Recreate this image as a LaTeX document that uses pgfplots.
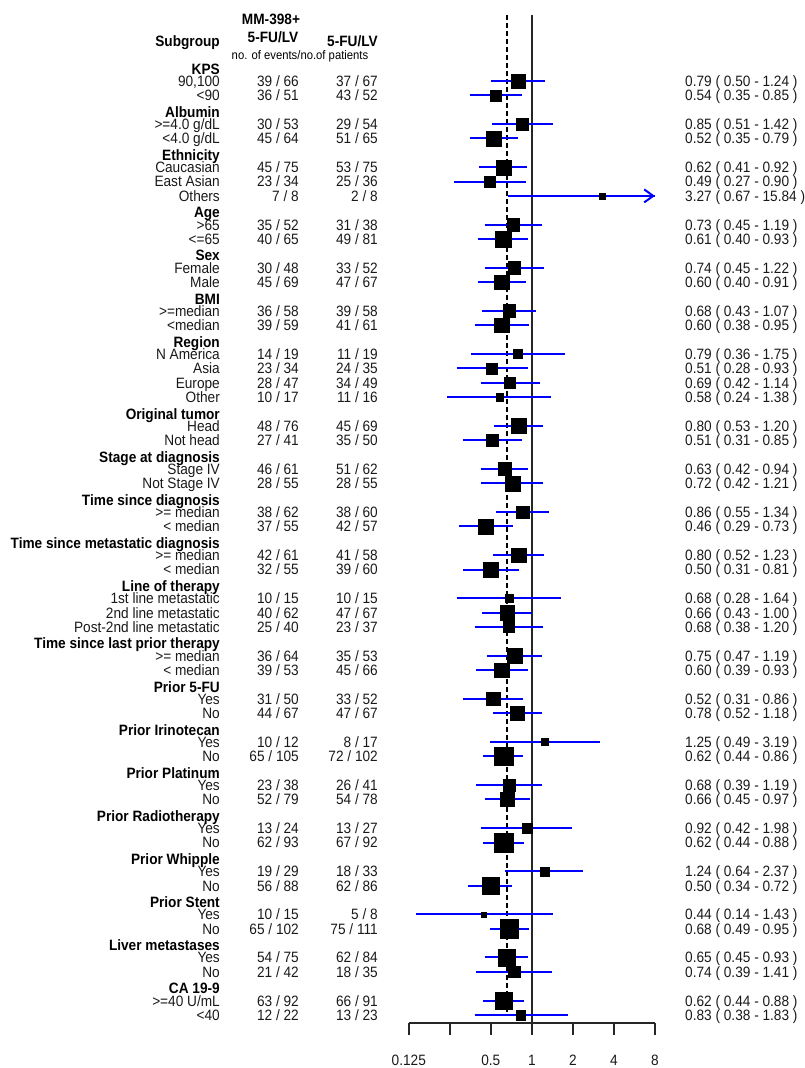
\documentclass[border=0pt]{standalone}
\usepackage{pgfplots}
\pgfplotsset{compat=1.18}
\usepackage{pgfplotstable}
\usepackage{fontspec}
\setmainfont{Liberation Sans}[FakeStretch=0.91]
\usetikzlibrary{arrows.meta}

\pgfplotstableread[col sep=semicolon]{
k;lab;ea;eb;hr;lo;hi;ci;box
1;90,100;39 / 66;37 / 67;0.79;0.50;1.24;0.79 ( 0.50 - 1.24 );14
2;<90;36 / 51;43 / 52;0.54;0.35;0.85;0.54 ( 0.35 - 0.85 );11
4;>=4.0 g/dL;30 / 53;29 / 54;0.85;0.51;1.42;0.85 ( 0.51 - 1.42 );12.7
5;<4.0 g/dL;45 / 64;51 / 65;0.52;0.35;0.79;0.52 ( 0.35 - 0.79 );15
7;Caucasian;45 / 75;53 / 75;0.62;0.41;0.92;0.62 ( 0.41 - 0.92 );15
8;East Asian;23 / 34;25 / 36;0.49;0.27;0.90;0.49 ( 0.27 - 0.90 );11.5
9;Others;7 / 8;2 / 8;3.27;0.67;15.84;3.27 ( 0.67 - 15.84 );6.5
11;>65;35 / 52;31 / 38;0.73;0.45;1.19;0.73 ( 0.45 - 1.19 );12.7
12;<=65;40 / 65;49 / 81;0.61;0.40;0.93;0.61 ( 0.40 - 0.93 );16
14;Female;30 / 48;33 / 52;0.74;0.45;1.22;0.74 ( 0.45 - 1.22 );12.7
15;Male;45 / 69;47 / 67;0.60;0.40;0.91;0.60 ( 0.40 - 0.91 );14.3
17;>=median;36 / 58;39 / 58;0.68;0.43;1.07;0.68 ( 0.43 - 1.07 );12.7
18;<median;39 / 59;41 / 61;0.60;0.38;0.95;0.60 ( 0.38 - 0.95 );14.3
20;N America;14 / 19;11 / 19;0.79;0.36;1.75;0.79 ( 0.36 - 1.75 );9
21;Asia;23 / 34;24 / 35;0.51;0.28;0.93;0.51 ( 0.28 - 0.93 );11
22;Europe;28 / 47;34 / 49;0.69;0.42;1.14;0.69 ( 0.42 - 1.14 );11.3
23;Other;10 / 17;11 / 16;0.58;0.24;1.38;0.58 ( 0.24 - 1.38 );7.3
25;Head;48 / 76;45 / 69;0.80;0.53;1.20;0.80 ( 0.53 - 1.20 );14.7
26;Not head;27 / 41;35 / 50;0.51;0.31;0.85;0.51 ( 0.31 - 0.85 );12.7
28;Stage IV;46 / 61;51 / 62;0.63;0.42;0.94;0.63 ( 0.42 - 0.94 );13
29;Not Stage IV;28 / 55;28 / 55;0.72;0.42;1.21;0.72 ( 0.42 - 1.21 );14.7
31;>= median;38 / 62;38 / 60;0.86;0.55;1.34;0.86 ( 0.55 - 1.34 );12.7
32;< median;37 / 55;42 / 57;0.46;0.29;0.73;0.46 ( 0.29 - 0.73 );15
34;>= median;42 / 61;41 / 58;0.80;0.52;1.23;0.80 ( 0.52 - 1.23 );14.7
35;< median;32 / 55;39 / 60;0.50;0.31;0.81;0.50 ( 0.31 - 0.81 );15
37;1st line metastatic;10 / 15;10 / 15;0.68;0.28;1.64;0.68 ( 0.28 - 1.64 );7.3
38;2nd line metastatic;40 / 62;47 / 67;0.66;0.43;1.00;0.66 ( 0.43 - 1.00 );14.3
39;Post-2nd line metastatic;25 / 40;23 / 37;0.68;0.38;1.20;0.68 ( 0.38 - 1.20 );11
41;>= median;36 / 64;35 / 53;0.75;0.47;1.19;0.75 ( 0.47 - 1.19 );14.7
42;< median;39 / 53;45 / 66;0.60;0.39;0.93;0.60 ( 0.39 - 0.93 );14.3
44;Yes;31 / 50;33 / 52;0.52;0.31;0.86;0.52 ( 0.31 - 0.86 );13.3
45;No;44 / 67;47 / 67;0.78;0.52;1.18;0.78 ( 0.52 - 1.18 );14.7
47;Yes;10 / 12;8 / 17;1.25;0.49;3.19;1.25 ( 0.49 - 3.19 );7
48;No;65 / 105;72 / 102;0.62;0.44;0.86;0.62 ( 0.44 - 0.86 );18.3
50;Yes;23 / 38;26 / 41;0.68;0.39;1.19;0.68 ( 0.39 - 1.19 );11.5
51;No;52 / 79;54 / 78;0.66;0.45;0.97;0.66 ( 0.45 - 0.97 );14.3
53;Yes;13 / 24;13 / 27;0.92;0.42;1.98;0.92 ( 0.42 - 1.98 );10.3
54;No;62 / 93;67 / 92;0.62;0.44;0.88;0.62 ( 0.44 - 0.88 );18.3
56;Yes;19 / 29;18 / 33;1.24;0.64;2.37;1.24 ( 0.64 - 2.37 );9
57;No;56 / 88;62 / 86;0.50;0.34;0.72;0.50 ( 0.34 - 0.72 );17
59;Yes;10 / 15;5 / 8;0.44;0.14;1.43;0.44 ( 0.14 - 1.43 );5.3
60;No;65 / 102;75 / 111;0.68;0.49;0.95;0.68 ( 0.49 - 0.95 );18.7
62;Yes;54 / 75;62 / 84;0.65;0.45;0.93;0.65 ( 0.45 - 0.93 );16.7
63;No;21 / 42;18 / 35;0.74;0.39;1.41;0.74 ( 0.39 - 1.41 );11.3
65;>=40 U/mL;63 / 92;66 / 91;0.62;0.44;0.88;0.62 ( 0.44 - 0.88 );16.3
66;<40;12 / 22;13 / 23;0.83;0.38;1.83;0.83 ( 0.38 - 1.83 );9.3
}\rows

\pgfplotstableread[col sep=semicolon]{
k;lab
0;KPS
3;Albumin
6;Ethnicity
10;Age
13;Sex
16;BMI
19;Region
24;Original tumor
27;Stage at diagnosis
30;Time since diagnosis
33;Time since metastatic diagnosis
36;Line of therapy
40;Time since last prior therapy
43;Prior 5-FU
46;Prior Irinotecan
49;Prior Platinum
52;Prior Radiotherapy
55;Prior Whipple
58;Prior Stent
61;Liver metastases
64;CA 19-9
}\heads

\pgfplotstablegetrowsof{\rows}
\pgfmathtruncatemacro\lastrow{\pgfplotsretval-1}

\newcommand\fs{\fontsize{15}{16}\selectfont}

\begin{document}
\begin{tikzpicture}
\path[use as bounding box] (0,0) rectangle (804pt,1068pt);
% ---------- text layer (x in pixels, y in rows) ----------
\begin{axis}[
  at={(0pt,0pt)}, anchor=south west,
  scale only axis, width=804pt, height=1068pt,
  xmin=0, xmax=804, ymin=-69.69, ymax=4.635,
  hide axis, clip=false,
  nodes near coords style={inner sep=0pt, font=\fs, text height=10.8pt, text depth=0pt, text=black!90},
]
\addplot[only marks, mark=*, mark size=0pt, mark options={draw=none,fill=none},
  point meta=explicit symbolic, nodes near coords,
  nodes near coords style={anchor=east}]
  table[x expr=220, y expr=-\thisrow{k}, meta=lab] {\rows};
\addplot[only marks, mark=*, mark size=0pt, mark options={draw=none,fill=none},
  point meta=explicit symbolic, nodes near coords,
  nodes near coords style={anchor=east}]
  table[x expr=299, y expr=-\thisrow{k}, meta=ea] {\rows};
\addplot[only marks, mark=*, mark size=0pt, mark options={draw=none,fill=none},
  point meta=explicit symbolic, nodes near coords,
  nodes near coords style={anchor=east}]
  table[x expr=378, y expr=-\thisrow{k}, meta=eb] {\rows};
\addplot[only marks, mark=*, mark size=0pt, mark options={draw=none,fill=none},
  point meta=explicit symbolic, nodes near coords,
  nodes near coords style={anchor=west}]
  table[x expr=685, y expr=-\thisrow{k}, meta=ci] {\rows};
\addplot[only marks, mark=*, mark size=0pt, mark options={draw=none,fill=none},
  point meta=explicit symbolic, nodes near coords,
  nodes near coords style={anchor=east, font=\fs\bfseries, text=black}]
  table[x expr=220, y expr=-\thisrow{k}-0.15, meta=lab] {\heads};
% column headers
\node[font=\fs\bfseries, inner sep=0pt, text height=10.8pt, text depth=0pt, anchor=center] at (axis cs:271,3.28) {MM-398+};
\node[font=\fs\bfseries, inner sep=0pt, text height=10.8pt, text depth=0pt, anchor=center] at (axis cs:273,2.08) {5-FU/LV};
\node[font=\fs\bfseries, inner sep=0pt, text height=10.8pt, text depth=0pt, anchor=east] at (axis cs:220,1.795) {Subgroup};
\node[font=\fs\bfseries, inner sep=0pt, text height=10.8pt, text depth=0pt, anchor=east] at (axis cs:378,1.76) {5-FU/LV};
\node[font=\fontsize{12.4}{13}\selectfont, inner sep=0pt, text height=8.9pt, text depth=0pt, anchor=center] at (axis cs:300,0.807) {no. of events/no.of patients};
\end{axis}

% ---------- forest plot ----------
\begin{axis}[
  at={(408.8pt,45pt)}, anchor=south west,
  scale only axis, width=246.1pt, height=1008pt,
  xmode=log, log basis x=2,
  xmin=0.125, xmax=8, ymin=-66.56, ymax=3.59,
  axis y line=none, axis x line*=bottom,
  x axis line style={-, line width=1.4pt, black!85},
  xtick={0.125,0.25,0.5,1,2,4,8},
  xticklabels={0.125,,0.5,1,2,4,8},
  minor xtick={},
  tick align=outside, major tick length=12pt,
  xtick style={line width=1.4pt, black!85},
  xticklabel style={font=\fs, anchor=center, inner sep=0pt, text height=10.8pt, text depth=0pt, yshift=-25pt, text=black!90},
  clip=false,
]
\addplot[black!85, line width=1.5pt] coordinates {(1,3.59) (1,-66.56)};
\addplot[black, line width=1.8pt, dash pattern=on 5pt off 3pt] coordinates {(0.66,3.59) (0.66,-66.1)};
\addplot[scatter, only marks, mark=square*, point meta=explicit,
  scatter/use mapped color={draw=black, fill=black},
  mark options={line width=0.2pt},
  visualization depends on={\thisrow{box}/2 \as \ms},
  scatter/@pre marker code/.append style={/tikz/mark size=\ms}]
  table[x=hr, y expr=-\thisrow{k}, meta=box] {\rows};
\pgfplotsinvokeforeach{0,...,\lastrow}{
  \pgfplotstablegetelem{#1}{lo}\of\rows \let\cilo\pgfplotsretval
  \pgfplotstablegetelem{#1}{hi}\of\rows \pgfmathsetmacro\cihi{min(\pgfplotsretval,8)}
  \pgfplotstablegetelem{#1}{k}\of\rows \let\cik\pgfplotsretval
  \addplot[blue, line width=2pt] coordinates {(\cilo,-\cik) (\cihi,-\cik)};
}
\addplot[blue, line width=2pt, -{Straight Barb[length=9pt,width=13pt]}] coordinates {(3.27,-9) (8,-9)};
\end{axis}
\end{tikzpicture}
\end{document}
